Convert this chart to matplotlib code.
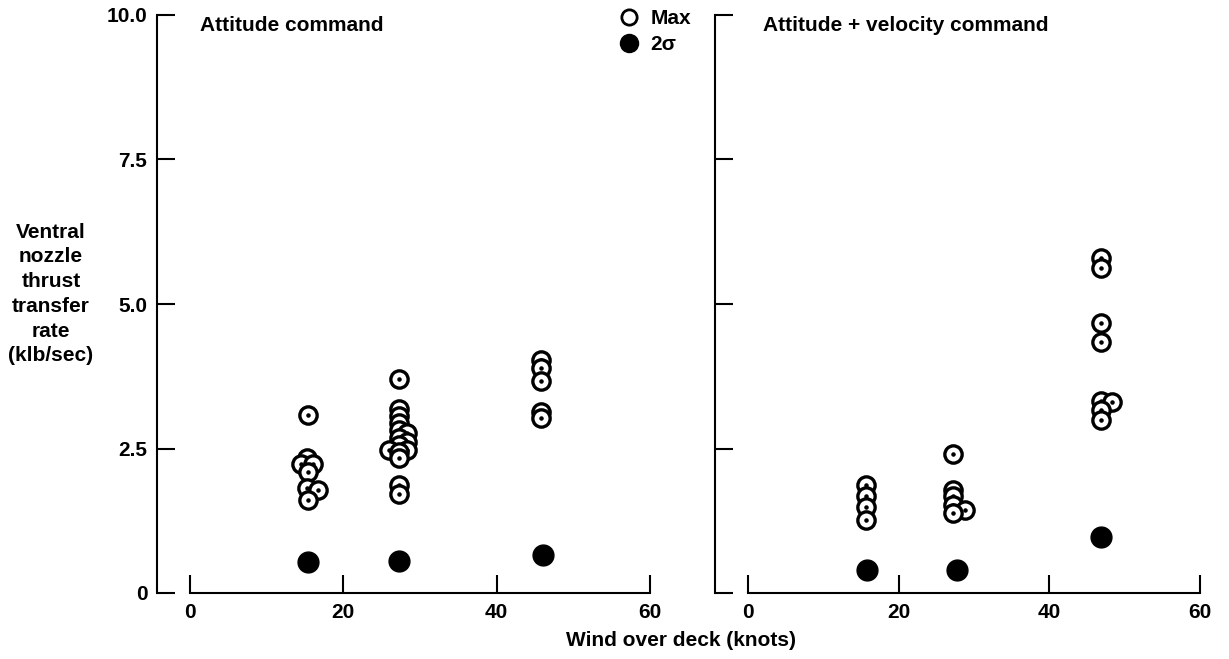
import numpy as np
import matplotlib.pyplot as plt
from matplotlib.lines import Line2D

plt.rcParams['font.family'] = ['Liberation Sans', 'DejaVu Sans']
plt.rcParams['font.weight'] = 'bold'
plt.rcParams['font.size'] = 15

# attitude command: max values
att_max_x = [15.4, 15.2, 14.5, 16.0, 15.4, 15.2, 16.7, 15.4,
             27.3, 27.3, 27.3, 27.3, 27.3, 28.3, 27.3, 28.3, 27.3, 26.0, 28.3, 27.3, 27.3,
             27.3, 27.3,
             45.8, 45.8, 45.8, 45.8, 45.8]
att_max_y = [3.08, 2.33, 2.24, 2.24, 2.10, 1.81, 1.78, 1.61,
             3.70, 3.18, 3.06, 2.94, 2.82, 2.76, 2.68, 2.62, 2.56, 2.47, 2.47, 2.44, 2.33,
             1.87, 1.72,
             4.03, 3.89, 3.67, 3.14, 3.02]
att_2s_x = [15.4, 27.3, 46.0]
att_2s_y = [0.54, 0.55, 0.66]

# attitude + velocity command
vel_max_x = [15.6, 15.6, 15.6, 15.6,
             27.2, 27.2, 27.2, 27.2, 28.8, 27.2,
             46.9, 46.9, 46.9, 46.9, 46.9, 48.3, 46.9, 46.9]
vel_max_y = [1.87, 1.68, 1.48, 1.27,
             2.40, 1.78, 1.67, 1.52, 1.44, 1.39,
             5.79, 5.62, 4.67, 4.35, 3.33, 3.30, 3.17, 2.99]
vel_2s_x = [15.8, 27.8, 46.9]
vel_2s_y = [0.40, 0.39, 0.97]

W, H = 1229, 659


def draw_max(ax, xs, ys):
    xs = np.array(xs)
    ys = np.array(ys)
    order = np.argsort(-ys, kind='stable')
    for k, i in enumerate(order):
        ax.scatter(xs[i], ys[i], s=155, facecolor='white', edgecolor='black',
                   linewidth=2.4, zorder=3 + 2 * k, clip_on=False)
        ax.scatter(xs[i], ys[i], s=5, color='black', zorder=4 + 2 * k, clip_on=False)


def style(ax, xmin):
    ax.set_xlim(xmin, 60)
    ax.set_ylim(0, 10)
    for s in ['top', 'right']:
        ax.spines[s].set_visible(False)
    ax.spines['bottom'].set_bounds(0, 60)
    ax.spines['left'].set_bounds(0, 10)
    for s in ['bottom', 'left']:
        ax.spines[s].set_linewidth(1.5)
    ax.set_xticks([0, 20, 40, 60])
    ax.set_yticks([0, 2.5, 5.0, 7.5, 10.0])
    ax.tick_params(direction='in', length=13, width=1.5, pad=7, labelsize=15)


fig = plt.figure(figsize=(W / 100, H / 100), dpi=100)
ax1 = fig.add_axes([157 / W, 1 - 593 / H, (650 - 157) / W, (593 - 15) / H])
ax2 = fig.add_axes([715 / W, 1 - 593 / H, (1200 - 715) / W, (593 - 15) / H])

style(ax1, -33 / (460 / 60))
style(ax2, -33 / (452 / 60))
ax1.set_yticklabels(['0', '2.5', '5.0', '7.5', '10.0'])
ax2.set_yticklabels([])

draw_max(ax1, att_max_x, att_max_y)
ax1.scatter(att_2s_x, att_2s_y, s=225, color='black', zorder=2, clip_on=False)
draw_max(ax2, vel_max_x, vel_max_y)
ax2.scatter(vel_2s_x, vel_2s_y, s=225, color='black', zorder=2, clip_on=False)

fig.text(200 / W, 1 - 31 / H, 'Attitude command', ha='left', va='baseline')
fig.text(763 / W, 1 - 31 / H, 'Attitude + velocity command', ha='left', va='baseline')

handles = [Line2D([], [], ls='none', marker='o', ms=11, mfc='white', mec='black', mew=2),
           Line2D([], [], ls='none', marker='o', ms=13, mfc='black', mec='black')]
fig.legend(handles, ['Max', '2\u03c3'], loc='upper left', bbox_to_anchor=(619 / W, 1 - 9 / H),
           frameon=False, handlelength=1.0, handletextpad=0.5, labelspacing=0.35,
           borderpad=0, borderaxespad=0)

fig.text(51 / W, 1 - 294 / H, 'Ventral\nnozzle\nthrust\ntransfer\nrate\n(klb/sec)',
         ha='center', va='center', multialignment='center', linespacing=1.38)
fig.text(681 / W, 1 - 640 / H, 'Wind over deck (knots)', ha='center', va='center')

fig.savefig('out.png', dpi=100)
